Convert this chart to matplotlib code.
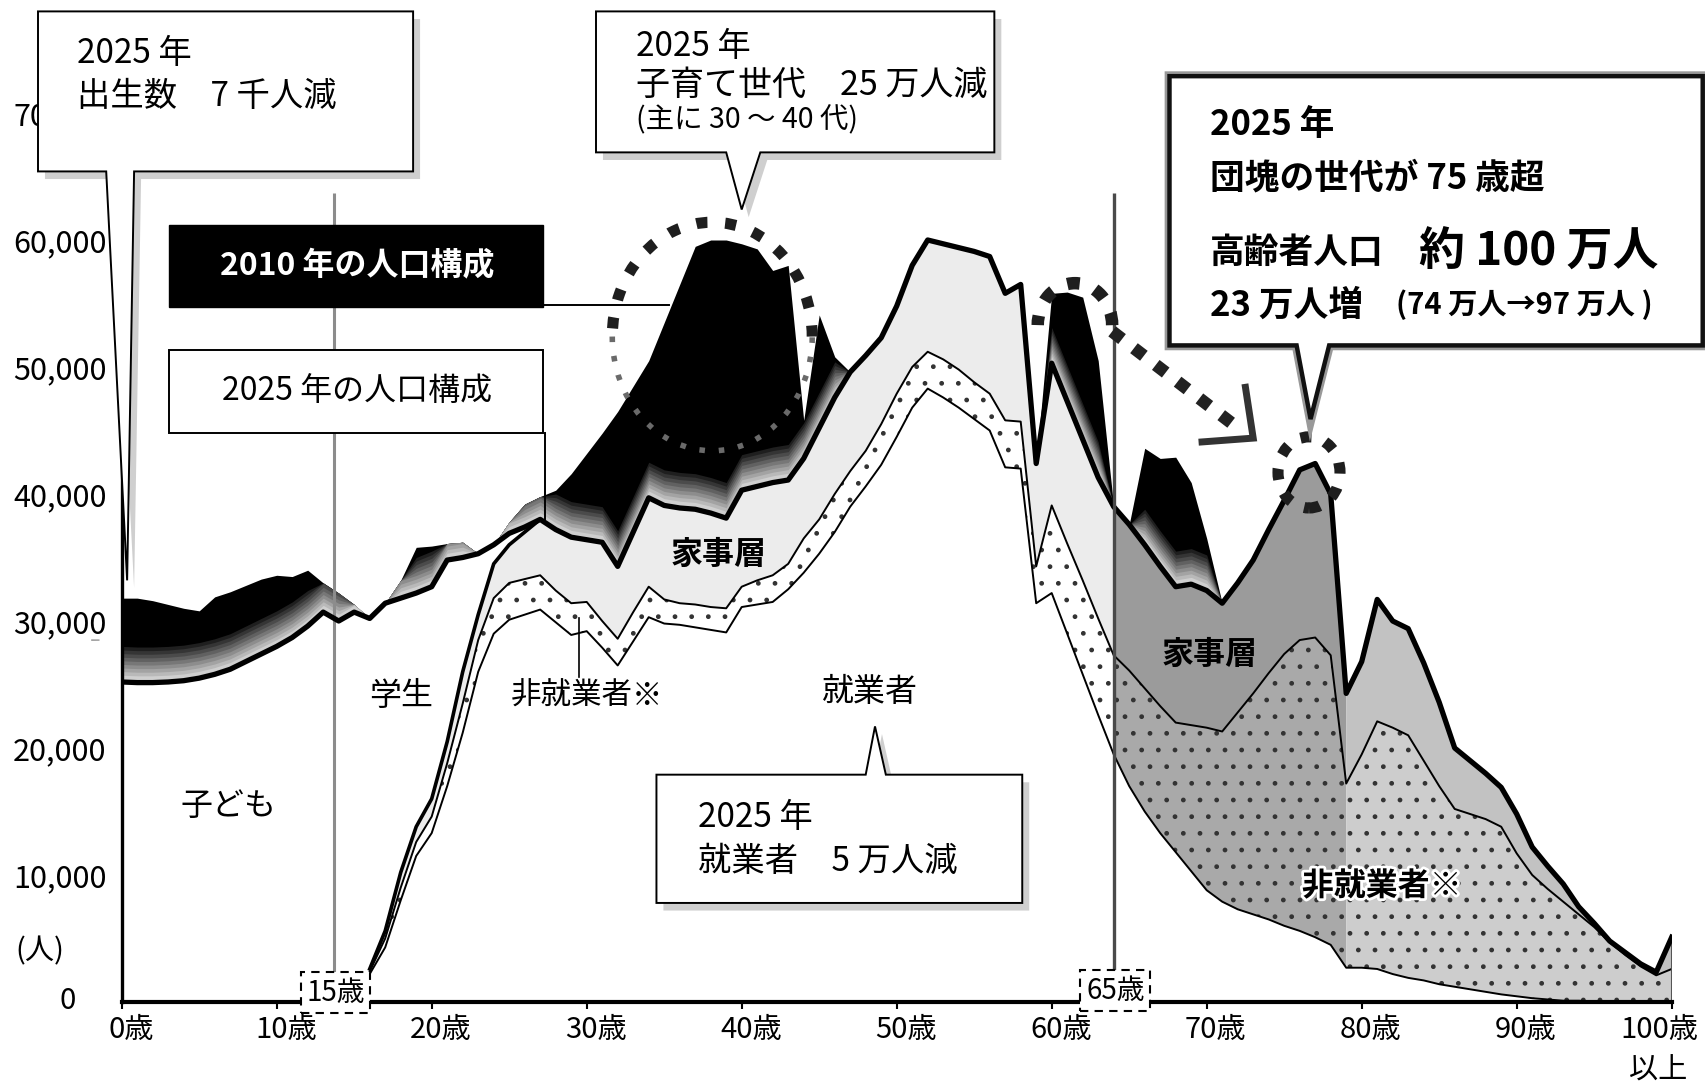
import numpy as np
import matplotlib.pyplot as plt
from matplotlib.patches import Polygon, Ellipse, Arc, Rectangle
from matplotlib.transforms import ScaledTranslation
import matplotlib.patheffects as pe

plt.rcParams['font.family'] = ['Noto Sans CJK JP', 'DejaVu Sans']
plt.rcParams['hatch.color'] = '#333333'
plt.rcParams['hatch.linewidth'] = 1.0

# population by age (persons)
ages = np.arange(0, 101)
total_2025 = [
    25200, 25150, 25150, 25200, 25300, 25500, 25800, 26200, 26800, 27400,
    28000, 28700, 29600, 30700, 30000, 30700, 30200, 31400, 31800, 32200,
    32700, 34800, 35000, 35300, 36000, 36900, 37400, 38000, 37200, 36600,
    36400, 36200, 34300, 37000, 39700, 39100, 38900, 38800, 38500, 38100,
    40300, 40600, 40900, 41100, 42800, 45200, 47600, 49600, 50900, 52300,
    54800, 58000, 60000, 59700, 59400, 59100, 58700, 55800, 56500, 42400,
    50300, 47300, 44300, 41300, 39000, 37600, 36000, 34300, 32700, 32900,
    32400, 31400, 33000, 34800, 37200, 39500, 41900, 42400, 40000, 24300,
    26800, 31700, 30000, 29400, 26700, 23600, 20000, 19000, 18000, 16900,
    14800, 12200, 10700, 9300, 7500, 6200, 4800, 3900, 3000, 2350,
    5100]

# 2010 population, only where it shows above the 2025 line
pop_2010 = [
    31800, 31800, 31600, 31300, 31000, 30800, 31900, 32300, 32800, 33300,
    33600, 33500, 34000, 33000, 32200, 31300, None, None, 33200, 35800,
    35900, 36100, 36200, None, None, 37800, 39200, 39800, 40300, 41600,
    43200, 44800, 46500, 48500, 50500, 53500, 56500, 59500, 60000, 60000,
    59700, 59300, 57600, 58000, 45800, 54100, 50800, None, None, None,
    None, None, None, None, None, None, None, None, None, None,
    55800, 55900, 55500, 50500, None, None, 43600, 42800, 42900, 40900,
    36500] + [None] * 30

# top of 就業者 (workers)
workers = [None] * 16 + [
    2200, 4300, 8000, 11500,
    13300, 17000, 21200, 26000, 29000, 30100, 30500, 30900, 29900, 28900,
    29200, 27900, 26500, 28400, 30300, 29800, 29700, 29500, 29300, 29100,
    31100, 31300, 31500, 32500, 33800, 35300, 37000, 39000, 40600, 42300,
    44500, 46800, 48300, 47600, 46800, 45900, 45000, 42100, 42000, 31400,
    32200, 29000, 25800, 22600, 19500, 17000, 15000, 13300, 11800, 10300,
    8800, 7900, 7300, 6900, 6500, 6000, 5600, 5100, 4500, 2700,
    2700, 2600, 2200, 1900, 1700, 1400, 1200, 1000, 800, 600,
    450, 300, 200, 100, 100, 50, 0, 0, 0, 0,
    0]

# top of 非就業者 (workers + non-workers)
nonworkers_top = [None] * 16 + [
    2400, 5000, 9000, 12600,
    14600, 18800, 23500, 28500, 31800, 33000, 33300, 33600, 32400, 31400,
    31500, 30000, 28600, 30700, 32700, 31700, 31400, 31300, 31100, 31000,
    32700, 33200, 33600, 34500, 36500, 38000, 40000, 41800, 43400, 45500,
    47900, 50000, 51200, 50600, 49800, 48800, 47900, 45800, 45700, 34300,
    39100, 36100, 33200, 30200, 27300, 26100, 24700, 23300, 22000, 21800,
    21600, 21300, 22800, 24300, 25900, 27400, 28500, 28700, 27300, 17200,
    19500, 22100, 21600, 21000, 19000, 17000, 15200, 14800, 14400, 13800,
    11700, 10000, 8900, 7900, 6900, 5900, 4700, 3700, 2800, 2100,
    2600]

# lower edge of 学生 (students) band, ages 16-27
students_bottom = [None] * 16 + [
    2600, 5600, 10200, 13800, 16000, 20500, 26000, 30500, 34500, 36000,
    37000, 38000] + [None] * 73

xtick_ages = list(range(0, 101, 10))
xtick_labels = [f'{a}歳' for a in xtick_ages]
ytick_vals = list(range(10000, 70001, 10000))
ytick_labels = [f'{v:,}' for v in ytick_vals]


def arr(v):
    return np.array([np.nan if a is None else a for a in v], dtype=float)


T = arr(total_2025)
P = arr(pop_2010)
W = arr(workers)
M = arr(nonworkers_top)
S = arr(students_bottom)

fig = plt.figure(figsize=(17.05, 10.89), dpi=100)
ax = fig.add_axes([121.7 / 1705, 87 / 1089, 1550 / 1705, 1002 / 1089])
ax.set_xlim(0, 100)
ax.set_ylim(0, 1002 / 127 * 10000)

# --- areas ---
ax.fill_between(ages, 0, T, color='white', lw=0, zorder=1)
young = (ages >= 16) & (ages <= 64)
old = (ages >= 64) & (ages <= 79)
oldest = ages >= 79
hw_top = np.where(np.isnan(S), T, S)
ax.fill_between(ages, W, M, where=young, facecolor='white', hatch='.', lw=0, zorder=2)
ax.fill_between(ages, M, hw_top, where=young, facecolor='#ececec', lw=0, zorder=2)
ax.fill_between(ages, W, M, where=old, facecolor='#a9a9a9', hatch='.', lw=0, zorder=2)
ax.fill_between(ages, M, T, where=old, facecolor='#9b9b9b', lw=0, zorder=2)
ax.fill_between(ages, W, M, where=oldest, facecolor='#cdcdcd', hatch='.', lw=0, zorder=2)
ax.fill_between(ages, M, T, where=oldest, facecolor='#c2c2c2', lw=0, zorder=2)

# 2010 surplus in black, fading to grey near the 2025 line
y10 = np.where(np.isnan(P), T, P)
ax.fill_between(ages, T, y10, color='black', lw=0, zorder=2)
fade = np.linspace(0.12, 0.9, 10)
for d, g in zip(np.linspace(2800, 250, 10), fade):
    ax.fill_between(ages, T, np.minimum(y10, T + d), color=str(g), lw=0, zorder=2)

# --- lines ---
ax.vlines(13.7, 0, 63700, color='#8c8c8c', lw=2.2, zorder=3)
ax.plot(ages, W, color='black', lw=1.4, zorder=4)
ax.plot(ages, M, color='black', lw=1.4, zorder=4)
ax.plot(ages, S, color='black', lw=2.6, zorder=4)
ax.plot(ages, T, color='black', lw=3.8, zorder=5)
ax.vlines(100, 0, T[-1], color='#555555', lw=1.5, zorder=4)
ax.vlines(64.0, 0, 63700, color='#4a4a4a', lw=2.4, zorder=6)


# --- dotted circles and arrow ---
def dashed(p, lw, dash, color='#1e1e1e'):
    p.set_fill(False)
    p.set_edgecolor(color)
    p.set_linewidth(lw)
    p.set_linestyle((0, dash))
    p.set_capstyle('butt')
    p.set_clip_on(False)
    p.set_zorder(7)
    ax.add_patch(p)


dashed(Arc((0.8, 28500), 5.0, 7200, theta1=95, theta2=265), 6, (1, 1.1), '#2a2a2a')
dashed(Arc((38.1, 52400), 12.9, 18000, theta1=-15, theta2=200), 8, (1, 1.6))
dashed(Arc((38.1, 52400), 12.9, 18000, theta1=200, theta2=345), 4, (1, 2.5), '#6a6a6a')
dashed(Arc((61.5, 53300), 4.8, 6600, theta1=-70, theta2=200), 9, (1, 1.3))
dashed(Ellipse((76.6, 41700), 4.0, 5600), 8, (1, 1.3))
ax.plot([63.9, 71.8], [52800, 45400], color='#222222', lw=9, dashes=(1, 1.2),
        dash_capstyle='butt', zorder=7)
ax.plot([69.7, 73.0, 72.5], [44100, 44400, 48400], color='#333333', lw=5,
        solid_joinstyle='miter', zorder=7)


# --- callout boxes ---
def callout(x0, x1, y0, y1, tail, top=False, lw=1.4, shadow=True):
    bl, br, tx, ty = tail
    if top:
        v = [(x0, y0), (x1, y0), (x1, y1), (br, y1), (tx, ty), (bl, y1), (x0, y1)]
    else:
        v = [(x0, y1), (x1, y1), (x1, y0), (br, y0), (tx, ty), (bl, y0), (x0, y0)]
    if shadow:
        sv = [(x + 0.45, y - 600) for x, y in v]
        ax.add_patch(Polygon(sv, closed=True, fc='#cfcfcf', ec='none',
                             zorder=8, clip_on=False))
    ax.add_patch(Polygon(v, closed=True, fc='white', ec='black', lw=lw,
                         joinstyle='miter', zorder=9, clip_on=False))


callout(-5.4, 18.8, 65400, 78000, (-1.0, 0.8, 0.35, 33200))
callout(30.6, 56.3, 66900, 78000, (39.0, 41.2, 40.0, 62400))
callout(34.5, 58.1, 7800, 17900, (48.0, 49.3, 48.6, 21700), top=True)
v3 = [(67.6, 72900), (102.0, 72900), (102.0, 51700), (77.9, 51700),
      (76.7, 45900), (75.8, 51700), (67.6, 51700)]
ax.add_patch(Polygon(v3, closed=True, fc='white', ec='#999999', lw=7,
                     joinstyle='miter', zorder=9, clip_on=False))
ax.add_patch(Polygon(v3, closed=True, fc='white', ec='#111111', lw=3.2,
                     joinstyle='miter', zorder=9, clip_on=False))

ax.add_patch(Rectangle((3.05, 54700), 24.15, 6500, fc='black', ec='black',
                       zorder=9))
ax.add_patch(Rectangle((3.05, 44800), 24.15, 6500, fc='white', ec='black',
                       lw=1.4, zorder=9))
ax.plot([27.2, 35.3], [54900, 54900], color='black', lw=1.4, zorder=8)
ax.plot([27.3, 27.3], [44800, 38000], color='black', lw=1.4, zorder=8)

tk = dict(zorder=10, va='center', ha='left', clip_on=False)
ax.text(-2.9, 74700, '2025 年', fontsize=24, **tk)
ax.text(-2.9, 71300, '出生数　7 千人減', fontsize=24, **tk)
ax.text(33.2, 75200, '2025 年', fontsize=24, **tk)
ax.text(33.2, 72200, '子育て世代　25 万人減', fontsize=24.5, **tk)
ax.text(33.2, 69400, '(主に 30 ～ 40 代)', fontsize=20.5, **tk)
ax.text(70.2, 69100, '2025 年', fontsize=25, fontweight='bold', **tk)
ax.text(70.2, 64900, '団塊の世代が 75 歳超', fontsize=25, fontweight='bold', **tk)
ax.text(70.2, 59000, '高齢者人口', fontsize=25, fontweight='bold', **tk)
ax.text(83.7, 59000, '約 100 万人', fontsize=33, fontweight='bold', **tk)
ax.text(70.2, 54900, '23 万人増', fontsize=25, fontweight='bold', **tk)
ax.text(82.2, 54900, '(74 万人→97 万人 )', fontsize=21, fontweight='bold', **tk)
ax.text(37.2, 14500, '2025 年', fontsize=24, **tk)
ax.text(37.2, 11100, '就業者　5 万人減', fontsize=24, **tk)
ax.text(15.2, 58000, '2010 年の人口構成', fontsize=23, fontweight='bold',
        color='white', ha='center', va='center', zorder=10)
ax.text(15.2, 48100, '2025 年の人口構成', fontsize=23, ha='center',
        va='center', zorder=10)

# --- area labels ---
lk = dict(ha='center', va='center', zorder=8)
ax.text(6.9, 15400, '子ども', fontsize=23, **lk)
ax.text(18.0, 24100, '学生', fontsize=23, **lk)
ax.text(30.0, 24100, '非就業者※', fontsize=22, **lk)
ax.plot([29.5, 29.5], [25600, 30200], color='black', lw=1.2, zorder=8)
ax.text(38.5, 35200, '家事層', fontsize=23, fontweight='bold', **lk)
ax.text(48.3, 24400, '就業者', fontsize=23, **lk)
ax.text(70.2, 27300, '家事層', fontsize=23, fontweight='bold', **lk)
ax.text(81.3, 9100, '非就業者※', fontsize=23, fontweight='bold',
        path_effects=[pe.withStroke(linewidth=4, foreground='white')], **lk)

# age markers on the axis
bb = dict(boxstyle='square,pad=0.2', fc='white', ec='black', ls=(0, (4, 3)), lw=1.5)
ax.text(13.8, 720, '15歳', fontsize=20, ha='center', va='center', bbox=bb,
        zorder=11, clip_on=False)
ax.text(64.1, 900, '65歳', fontsize=20, ha='center', va='center', bbox=bb,
        zorder=11, clip_on=False)

# --- axes ---
for s in ['top', 'right']:
    ax.spines[s].set_visible(False)
ax.spines['left'].set_linewidth(2.4)
ax.spines['left'].set_bounds(0, 70000)
ax.spines['bottom'].set_linewidth(3)
ax.spines['left'].set_zorder(6)
ax.spines['bottom'].set_zorder(6)
ax.set_yticks(ytick_vals, ytick_labels, fontsize=22)
ax.tick_params(axis='y', length=0, pad=11)
ax.set_xticks(xtick_ages, xtick_labels, fontsize=21)
ax.tick_params(axis='x', length=5, width=1.5, direction='out', pad=4)
for a, lab in zip(xtick_ages, ax.get_xticklabels()):
    dx = -12 if a == 100 else 9
    lab.set_transform(lab.get_transform() + ScaledTranslation(dx / 100, 0, fig.dpi_scale_trans))
ax.text(-3.5, 100, '0', fontsize=21, ha='center', va='center', clip_on=False)
ax.text(-5.3, 4000, '(人)', fontsize=21, ha='center', va='center', clip_on=False)
ax.text(99.1, -5400, '以上', fontsize=21, ha='center', va='center', clip_on=False)

fig.savefig('out.png', dpi=100, facecolor='white')
